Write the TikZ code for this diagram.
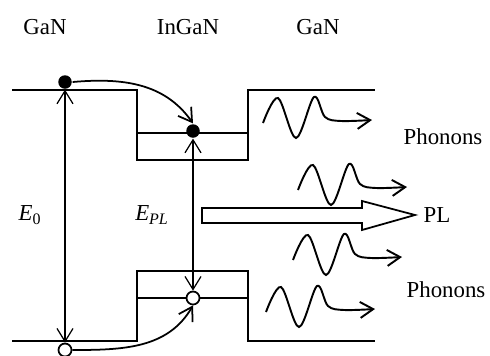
\documentclass[tikz,border=0pt]{standalone}
\usepackage{fontspec}
\setmainfont{Liberation Serif}
\usetikzlibrary{arrows.meta}
\tikzset{etq/.style={font=\fontsize{13}{15}\selectfont, inner sep=0pt},
  elec/.style={circle, fill, minimum size=2.7mm, inner sep=0pt},
  hueco/.style={circle, draw, fill=white, minimum size=2.6mm, inner sep=0pt},
  flecha/.style={-{Straight Barb[length=2.6mm, width=3.2mm]}},
  dflecha/.style={{Straight Barb[length=2.6mm, width=3.2mm]}-{Straight Barb[length=2.6mm, width=3.2mm]}},
  phonon/.pic={\draw[flecha, line width=1.1pt] plot[smooth, tension=0.55] coordinates {(0,0) (15,25) (33,-15) (51,26) (62,6) (78,2) (109,3)};}}

\begin{document}
\begin{tikzpicture}[x=0.2mm, y=0.2mm, line width=1pt]
  \useasboundingbox (0,0) rectangle (490,355);
  \node[etq] (gan1) at (45,328) {GaN};  \node[etq] (ingan) at (188,328) {InGaN};  \node[etq] (gan2) at (318,328) {GaN};
  % bandas
  \draw (12,265) -- (137,265) -- (137,195) -- (248,195) -- (248,265) -- (375,265);  \draw (137,222) -- (248,222);
  \draw (12,14) -- (137,14) -- (137,84) -- (248,84) -- (248,14) -- (375,14);        \draw (137,57) -- (248,57);
  % portadores
  \node[elec] (e1) at (65,273) {};  \node[elec] (e2) at (193,224) {};
  \node[hueco] (h1) at (65,5) {};   \node[hueco] (h2) at (193,57) {};
  \draw[dflecha, line width=0.7pt] (e1.south) -- (h1.north);
  \draw[dflecha, line width=0.7pt] (e2.south) -- (h2.north);
  \draw[flecha] (e1.east) to[out=5, in=125] (e2.north);
  \draw[flecha] (h1.east) to[out=0, in=-120] (h2.south);
  \node[etq] (e0) at (30,140) {\textit{E}\textsubscript{0}};  \node[etq] (epl) at (152,140) {\textit{E}\textsubscript{\textit{PL}}};
  % PL
  \draw (202,132) -- (362,132) -- (362,125) -- (415,140) -- (362,154) -- (362,147) -- (202,147) -- cycle;
  \node[etq] (pl) at (437,140) {PL};
  \pic at (263,232) {phonon};  \pic at (298,165) {phonon};
  \pic at (293,95) {phonon};   \pic at (266,43) {phonon};
  \node[etq] (ph1) at (443,218) {Phonons};  \node[etq] (ph2) at (446,65) {Phonons};
\end{tikzpicture}
\end{document}
